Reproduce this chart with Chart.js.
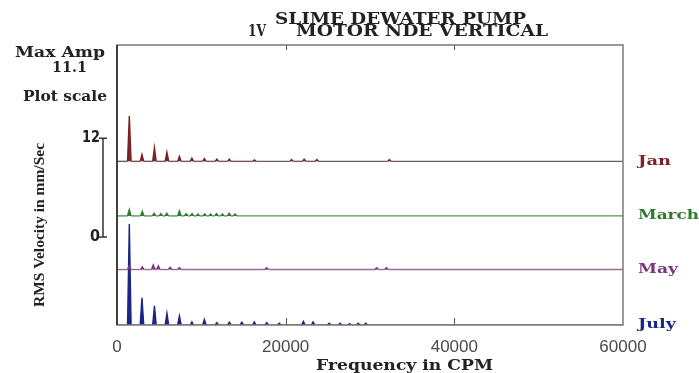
<!DOCTYPE html>
<html>
<head>
<meta charset="utf-8">
<script src="https://cdn.jsdelivr.net/npm/chart.js@4/dist/chart.umd.min.js"></script>
<style>
  html, body { margin: 0; padding: 0; background: #fff; }
  canvas { display: block; }
</style>
</head>
<body>
<canvas id="chart" width="699" height="373"></canvas>
<script>
// Spectrum peaks (frequency in CPM, amplitude in mm/s RMS)
const months = ['Jan', 'March', 'May', 'July'];
const xTicks = [0, 20000, 40000, 60000];

const janFreq = [1460, 2960, 4440, 5920, 7400, 8880, 10360, 11840, 13320, 16300, 20700, 22200, 23700, 32300];
const janAmp  = [5.0, 0.75, 1.5, 1.0, 0.55, 0.35, 0.3, 0.25, 0.25, 0.15, 0.2, 0.25, 0.2, 0.2];

const marchFreq = [1460, 3000, 4400, 5200, 5900, 7400, 8200, 8900, 9600, 10400, 11100, 11800, 12500, 13300, 14000];
const marchAmp  = [0.7, 0.5, 0.3, 0.25, 0.3, 0.55, 0.25, 0.25, 0.2, 0.2, 0.2, 0.25, 0.2, 0.3, 0.2];

const mayFreq = [1460, 3000, 4300, 4900, 6300, 7400, 17750, 30800, 31950];
const mayAmp  = [0.4, 0.3, 0.5, 0.4, 0.25, 0.2, 0.2, 0.2, 0.2];

const julyFreq = [1460, 2960, 4440, 5920, 7400, 8880, 10360, 11840, 13320, 14800, 16280, 17760, 19240,
                  22100, 23250, 25160, 26450, 27600, 28600, 29500];
const julyAmp  = [11.1, 3.0, 2.1, 1.3, 1.0, 0.35, 0.6, 0.25, 0.3, 0.3, 0.35, 0.25, 0.2,
                  0.4, 0.35, 0.2, 0.2, 0.15, 0.2, 0.2];

// waterfall offsets of each trace on the shared axis (mm/s)
const offsets = [18.0, 12.0, 6.1, 0];
const peakColors = ['#7d2222', '#2f7a2f', '#7a3580', '#1b2585'];
const lineColors = ['#6e5c5c', '#5f8f5f', '#94708e', '#6b6e85'];

const spectra = [[janFreq, janAmp], [marchFreq, marchAmp], [mayFreq, mayAmp], [julyFreq, julyAmp]];
const halfWidth = 210;

function spectrum(freq, amp, base) {
    const pts = [{ x: 0, y: base }];
    freq.forEach((f, i) => {
        pts.push({ x: f - halfWidth, y: base }, { x: f, y: base + amp[i] }, { x: f + halfWidth, y: base });
    });
    pts.push({ x: 60000, y: base });
    return pts;
}

const datasets = spectra.map(([f, a], i) => ({
    label: months[i],
    data: spectrum(f, a, offsets[i]),
    borderColor: peakColors[i],
    backgroundColor: peakColors[i],
    fill: { value: offsets[i] },
    borderWidth: 1.4,
    pointRadius: 0,
    tension: 0,
    segment: {
        borderColor: c => c.p0.parsed.y === c.p1.parsed.y ? lineColors[i] : peakColors[i]
    }
}));

// draws text, optionally squeezed/stretched to a given width
function label(ctx, s, x, y, font, color, width, align) {
    ctx.save();
    ctx.font = font;
    ctx.fillStyle = color;
    ctx.textBaseline = 'middle';
    ctx.textAlign = align || 'left';
    const k = width ? width / ctx.measureText(s).width : 1;
    ctx.translate(x, y);
    ctx.scale(k, 1);
    ctx.fillText(s, 0, 0);
    ctx.restore();
}

const decor = {
    id: 'decor',
    afterDraw(chart) {
        const { ctx, chartArea: a, scales: { x, y } } = chart;
        ctx.save();

        // frame
        ctx.lineWidth = 1.5;
        ctx.strokeStyle = '#7a7a7a';
        ctx.strokeRect(a.left, a.top, a.right - a.left, a.bottom - a.top);
        ctx.strokeStyle = '#222';
        ctx.beginPath();
        ctx.moveTo(a.left, a.top);
        ctx.lineTo(a.left, a.bottom);
        ctx.stroke();

        // inward tick marks
        ctx.lineWidth = 1;
        ctx.strokeStyle = '#555';
        xTicks.slice(1, -1).forEach(v => {
            const px = Math.round(x.getPixelForValue(v)) + 0.5;
            ctx.beginPath();
            ctx.moveTo(px, a.top);
            ctx.lineTo(px, a.top + 5);
            ctx.moveTo(px, a.bottom);
            ctx.lineTo(px, a.bottom - 7);
            ctx.stroke();
        });

        // title
        const tf = 'bold 16px "DejaVu Serif"';
        label(ctx, 'SLIME DEWATER PUMP', 275, 20, tf, '#222', 251);
        label(ctx, '1V', 248, 32, tf, '#222', 18);
        label(ctx, 'MOTOR NDE VERTICAL', 296, 32, tf, '#222', 252);

        // left notes
        const nf = 'bold 15px "DejaVu Serif"';
        label(ctx, 'Max Amp', 15, 53, nf, '#222', 90);
        label(ctx, '11.1', 52, 68, nf, '#222', 35);
        label(ctx, 'Plot scale', 23, 97, nf, '#222', 84);

        // plot scale bar
        const yTop = y.getPixelForValue(20.55);
        const yBot = y.getPixelForValue(9.67);
        ctx.strokeStyle = '#333';
        ctx.lineWidth = 1.5;
        ctx.beginPath();
        ctx.moveTo(103, yTop);
        ctx.lineTo(103, yBot);
        ctx.moveTo(99, yTop);
        ctx.lineTo(107, yTop);
        ctx.moveTo(99, yBot);
        ctx.lineTo(107, yBot);
        ctx.stroke();
        label(ctx, '12', 100, yTop, 'bold 15px "DejaVu Sans"', '#222', 18, 'right');
        label(ctx, '0', 100, yBot, 'bold 15px "DejaVu Sans"', '#222', 10, 'right');

        // axis titles
        ctx.save();
        ctx.translate(40, 225);
        ctx.rotate(-Math.PI / 2);
        label(ctx, 'RMS Velocity in mm/Sec', 0, 0, 'bold 14px "Liberation Serif"', '#222', 164, 'center');
        ctx.restore();
        label(ctx, 'Frequency in CPM', 316, 366, 'bold 15px "DejaVu Serif"', '#222', 177);

        // month labels at each trace baseline
        const mw = [33, 61, 40, 38];
        months.forEach((m, i) => {
            label(ctx, m, 638, y.getPixelForValue(offsets[i]), 'bold 13px "DejaVu Serif"', peakColors[i], mw[i]);
        });

        ctx.restore();
    }
};

new Chart(document.getElementById('chart'), {
    type: 'line',
    data: { datasets },
    options: {
        responsive: false,
        animation: false,
        layout: { padding: { left: 117, right: 76, top: 45, bottom: 0 } },
        plugins: {
            legend: { display: false },
            tooltip: { enabled: false }
        },
        scales: {
            x: {
                type: 'linear',
                min: 0,
                max: 60000,
                grid: { display: false, drawTicks: false },
                border: { display: false },
                afterBuildTicks: s => { s.ticks = xTicks.map(v => ({ value: v })); },
                afterFit: s => { s.height = 48; },
                ticks: {
                    padding: 12,
                    maxRotation: 0,
                    color: '#4a4a4a',
                    font: { family: 'Liberation Sans', size: 17 },
                    callback: v => String(v)
                }
            },
            y: {
                display: false,
                min: 0,
                max: 30.8
            }
        }
    },
    plugins: [decor]
});
</script>
</body>
</html>
